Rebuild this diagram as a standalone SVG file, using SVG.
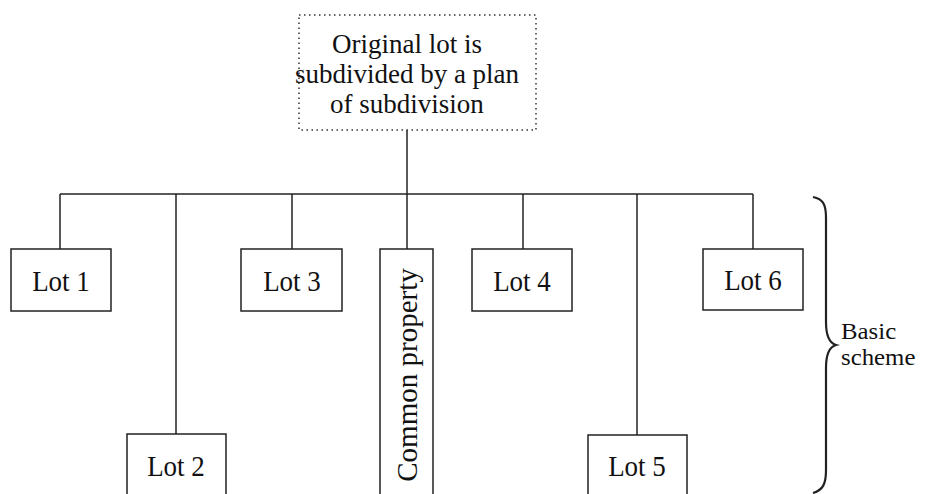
<svg xmlns="http://www.w3.org/2000/svg" width="929" height="494" viewBox="0 0 929 494">
<style>
  .box { fill: #fff; stroke: #222; stroke-width: 1.5; }
  .dot { fill: #fff; stroke: #333; stroke-width: 1.5; stroke-dasharray: 1.5 3.5; }
  .ln { fill: none; stroke: #222; stroke-width: 1.5; }
  text { font-family: "Liberation Serif", "Times New Roman", serif; font-size: 27px; fill: #111; }
  .c { text-anchor: middle; }
  .sm { font-size: 23px; }
</style>
<rect width="929" height="494" fill="#fff"/>
<g id="connectors">
  <line class="ln" x1="407" y1="130" x2="407" y2="194"/>
  <line class="ln" x1="60" y1="194" x2="753" y2="194"/>
  <line class="ln" x1="60" y1="194" x2="60" y2="249"/>
  <line class="ln" x1="176" y1="194" x2="176" y2="434"/>
  <line class="ln" x1="292" y1="194" x2="292" y2="249"/>
  <line class="ln" x1="407" y1="194" x2="407" y2="249"/>
  <line class="ln" x1="523" y1="194" x2="523" y2="249"/>
  <line class="ln" x1="637" y1="194" x2="637" y2="435"/>
  <line class="ln" x1="753" y1="194" x2="753" y2="249"/>
</g>
<g id="root">
  <rect class="dot" x="299" y="15" width="237" height="115"/>
  <text class="c" x="407" y="53">Original lot is</text>
  <text class="c" x="407" y="83">subdivided by a plan</text>
  <text class="c" x="407" y="113">of subdivision</text>
</g>
<g id="lot1">
  <rect class="box" x="11" y="249" width="100" height="62"/>
  <text class="c" transform="translate(61,291) scale(1,1.1)">Lot 1</text>
</g>
<g id="lot2">
  <rect class="box" x="127" y="434" width="99" height="70"/>
  <text class="c" transform="translate(176,476) scale(1,1.1)">Lot 2</text>
</g>
<g id="lot3">
  <rect class="box" x="241" y="249" width="101" height="62"/>
  <text class="c" transform="translate(292,291) scale(1,1.1)">Lot 3</text>
</g>
<g id="common">
  <rect class="box" x="380" y="249" width="53" height="255"/>
  <text class="c" transform="translate(417,375) rotate(-90)" style="font-size:29px">Common property</text>
</g>
<g id="lot4">
  <rect class="box" x="472" y="249" width="100" height="62"/>
  <text class="c" transform="translate(522,291) scale(1,1.1)">Lot 4</text>
</g>
<g id="lot5">
  <rect class="box" x="588" y="435" width="99" height="70"/>
  <text class="c" transform="translate(637,476) scale(1,1.1)">Lot 5</text>
</g>
<g id="lot6">
  <rect class="box" x="703" y="249" width="100" height="61"/>
  <text class="c" transform="translate(753,290) scale(1,1.1)">Lot 6</text>
</g>
<g id="brace">
  <path class="ln" style="stroke-width:2.2" d="M813,197 C824,199 826,206 826,218 L826,322 C826,336 829,343 836,345 C829,347 826,354 826,368 L826,470 C826,484 823,490 813,493"/>
  <text class="sm" transform="translate(841,339) scale(1.08,1)">Basic</text>
  <text class="sm" transform="translate(841,365) scale(1.08,1)">scheme</text>
</g>
</svg>
